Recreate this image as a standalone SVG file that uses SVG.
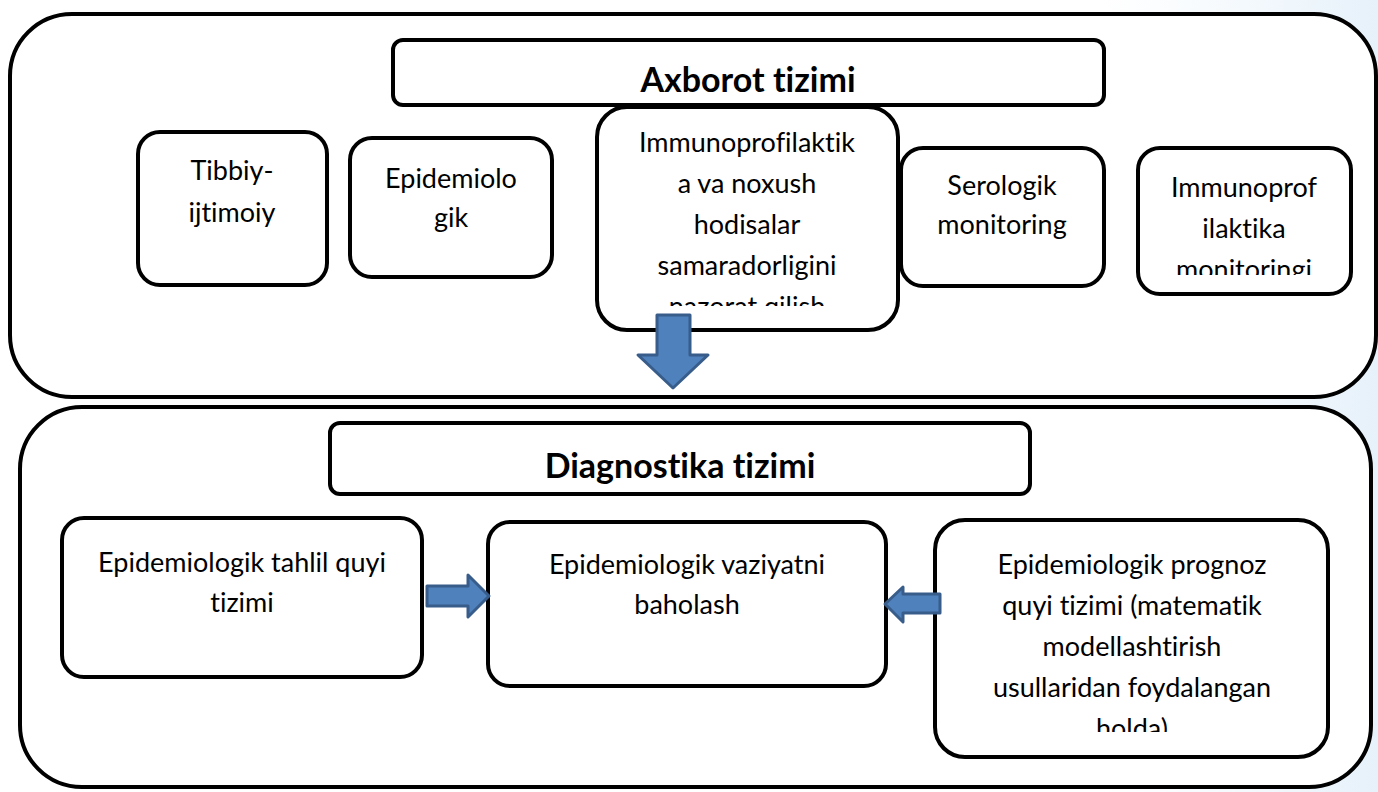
<svg xmlns="http://www.w3.org/2000/svg" width="1378" height="792" viewBox="0 0 1378 792">
<defs>
<style>
.box{fill:#fff;stroke:#000;stroke-width:4}
.t{font-family:Lato,"Liberation Sans",sans-serif;font-size:27px;fill:#000;text-anchor:middle;font-variant-ligatures:none;font-feature-settings:"liga" 0}
.h{font-family:Lato,"Liberation Sans",sans-serif;font-size:34px;font-weight:bold;fill:#000;text-anchor:middle;font-variant-ligatures:none;font-feature-settings:"liga" 0}
.arr{fill:#4F81BD;stroke:#385D8A;stroke-width:3;stroke-linejoin:round}
</style>
<linearGradient id="bg" x1="0" y1="0" x2="1" y2="0">
<stop offset="0" stop-color="#eef6fc" stop-opacity="0"/>
<stop offset="1" stop-color="#e6f1fa" stop-opacity="1"/>
</linearGradient>
<clipPath id="c1"><rect x="597" y="107" width="301" height="199"/></clipPath>
<clipPath id="c2"><rect x="1138" y="148" width="214" height="127"/></clipPath>
<clipPath id="c3"><rect x="935" y="520" width="393" height="212"/></clipPath>
</defs>
<rect width="1378" height="792" fill="#fff"/>
<rect x="1100" y="0" width="278" height="792" fill="url(#bg)"/>

<g id="info-system">
<rect class="box" x="10" y="14" width="1366" height="383" rx="62"/>
</g>
<g id="diag-system">
<rect class="box" x="20" y="407" width="1351" height="380" rx="62"/>
</g>

<g id="axborot">
<rect class="box" x="393" y="40" width="711" height="65" rx="10"/>
<text class="h" x="748" y="92">Axborot tizimi</text>
</g>
<g id="tibbiy">
<rect class="box" x="138" y="132" width="189" height="153" rx="22"/>
<text class="t" x="232" y="180">Tibbiy-</text>
<text class="t" x="232" y="222">ijtimoiy</text>
</g>
<g id="epidemiologik">
<rect class="box" x="350" y="138" width="202" height="139" rx="22"/>
<text class="t" x="451" y="188">Epidemiolo</text>
<text class="t" x="451" y="227">gik</text>
</g>
<g id="immuno-nazorat">
<rect class="box" x="597" y="107" width="301" height="223" rx="30"/>
<g clip-path="url(#c1)">
<text class="t" x="747" y="152">Immunoprofilaktik</text>
<text class="t" x="747" y="193">a va noxush</text>
<text class="t" x="747" y="234">hodisalar</text>
<text class="t" x="747" y="275">samaradorligini</text>
<text class="t" x="747" y="316">nazorat qilish</text>
</g>
</g>
<g id="serologik">
<rect class="box" x="901" y="148" width="203" height="138" rx="22"/>
<text class="t" x="1002" y="195">Serologik</text>
<text class="t" x="1002" y="234">monitoring</text>
</g>
<g id="immuno-monitoring">
<rect class="box" x="1138" y="148" width="213" height="146" rx="22"/>
<g clip-path="url(#c2)">
<text class="t" x="1244" y="197">Immunoprof</text>
<text class="t" x="1244" y="238">ilaktika</text>
<text class="t" x="1244" y="279">monitoringi</text>
</g>
</g>

<g id="diagnostika">
<rect class="box" x="330" y="423" width="700" height="71" rx="10"/>
<text class="h" x="680" y="478">Diagnostika tizimi</text>
</g>
<g id="tahlil">
<rect class="box" x="62" y="518" width="360" height="159" rx="22"/>
<text class="t" x="242" y="572">Epidemiologik tahlil quyi</text>
<text class="t" x="242" y="612">tizimi</text>
</g>
<g id="baholash">
<rect class="box" x="488" y="522" width="398" height="164" rx="22"/>
<text class="t" x="687" y="574">Epidemiologik vaziyatni</text>
<text class="t" x="687" y="614">baholash</text>
</g>
<g id="prognoz">
<rect class="box" x="935" y="520" width="393" height="237" rx="30"/>
<g clip-path="url(#c3)">
<text class="t" x="1132" y="574">Epidemiologik prognoz</text>
<text class="t" x="1132" y="615">quyi tizimi (matematik</text>
<text class="t" x="1132" y="656">modellashtirish</text>
<text class="t" x="1132" y="697">usullaridan foydalangan</text>
<text class="t" x="1132" y="738">holda)</text>
</g>
</g>

<g id="connectors">
<polygon class="arr" points="657,315 690,315 690,355 708,355 673,388 638,355 657,355"/>
<polygon class="arr" points="427,586 468,586 468,575 489,596 468,617 468,606 427,606"/>
<polygon class="arr" points="940,594 903,594 903,587 885,604 903,622 903,613 940,613"/>
</g>
</svg>
